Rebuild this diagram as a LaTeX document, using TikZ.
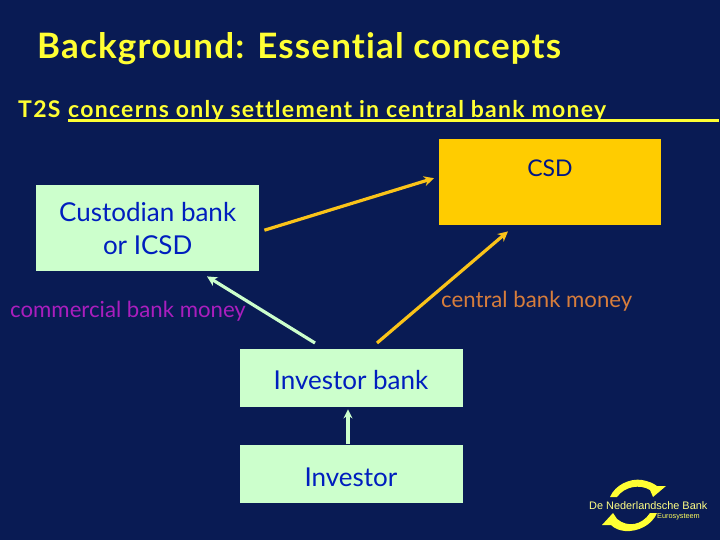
\documentclass[tikz,border=0pt]{standalone}
\usepackage{fontspec}
\setmainfont{Lato}[Ligatures=NoCommon]
\newfontfamily\spaced{Lato}[LetterSpace=5.5,Ligatures=NoCommon]
\newfontfamily\titlefont{Lato}[LetterSpace=3.3,Ligatures=NoCommon]
\newfontfamily\logofont{Liberation Sans}
\usetikzlibrary{arrows.meta}
\definecolor{navy}{RGB}{9,27,84}
\definecolor{titleyellow}{RGB}{255,255,51}
\definecolor{palegreen}{RGB}{204,255,204}
\definecolor{gold}{RGB}{255,204,0}
\definecolor{boxtext}{RGB}{0,30,190}
\definecolor{purpletext}{RGB}{170,30,190}
\definecolor{orangetext}{RGB}{215,125,60}
\definecolor{arrowgold}{RGB}{250,195,25}
\tikzset{
  x=1pt,y=-1pt,
  box/.style={fill=palegreen,text=boxtext,font=\fontsize{26}{33}\selectfont,align=center,inner sep=0pt,anchor=north west},
  csdbox/.style={fill=gold,inner sep=0pt,anchor=north west},
  link/.style={line width=3.2pt,-{Stealth[length=10pt,width=10pt]}},
  smalllink/.style={line width=3.2pt,-{Stealth[length=9pt,width=9pt]}},
  label/.style={font=\fontsize{22.2}{25}\selectfont,inner sep=0pt,anchor=base west},
  ttl/.style={text=titleyellow,inner sep=0pt,anchor=base west}
}
\begin{document}
\begin{tikzpicture}
\useasboundingbox (0,0) rectangle (720,540);
\fill[navy] (0,0) rectangle (720,540);
\node[ttl,font=\titlefont\bfseries\fontsize{35}{40}\selectfont] (title) at (37,59) {Background: Essential concepts};
\node[ttl,font=\spaced\bfseries\fontsize{23}{27}\selectfont] (t2s) at (18,118) {T2S};
\node[ttl,font=\spaced\bfseries\fontsize{23}{27}\selectfont] (sub) at (68,118) {concerns only settlement in central bank money};
\draw[titleyellow,line width=2.5pt] (68,120.5) -- (719,120.5);
\node[box,minimum width=223pt,minimum height=86pt] (cust) at (36,185) {Custodian bank\\or ICSD};
\node[csdbox,minimum width=222pt,minimum height=86pt] (csd) at (439,139) {};
\node[text=boxtext!70!black,font=\fontsize{23}{27}\selectfont,inner sep=0pt] (csdl) at (550,168) {CSD};
\node[box,minimum width=223pt,minimum height=58pt] (ib) at (240,349) {};
\node[text=boxtext,font=\fontsize{26}{33}\selectfont,inner sep=0pt] (ibl) at (351,380) {Investor bank};
\node[box,minimum width=223pt,minimum height=58pt] (inv) at (240,445) {};
\node[text=boxtext,font=\fontsize{26}{33}\selectfont,inner sep=0pt] (invl) at (351,477) {Investor};
\node[label,text=purpletext] (cbm) at (10,317) {commercial bank money};
\node[label,text=orangetext] (zbm) at (441,307) {central bank money};
\draw[link,arrowgold] ([xshift=5pt,yshift=-2pt]cust.east) -- ([xshift=-5pt,yshift=4pt]csd.west);
\draw[link,arrowgold] ([xshift=137pt,yshift=6pt]ib.north west) -- ([xshift=69pt,yshift=-6pt]csd.south west);
\draw[link,palegreen] ([xshift=75pt,yshift=6pt]ib.north west) -- ([xshift=171pt,yshift=-5pt]cust.south west);
\draw[smalllink,palegreen] ([xshift=108pt,yshift=1pt]inv.north west) -- ([xshift=108pt,yshift=-2pt]ib.south west);
% logo
\fill[titleyellow] (610,497) .. controls (615,485) and (630,478) .. (642,480) .. controls (648,481) and (653,483) .. (657,486) -- (666,486) -- (653,497) -- (650,490) .. controls (640,484) and (625,486) .. (617,497) -- cycle;
\fill[titleyellow] (657,513) .. controls (652,525) and (638,532) .. (625,531) .. controls (620,530.5) and (615,529) .. (611,525) -- (602,525) -- (613,513) -- (617,519) .. controls (628,528) and (642,525) .. (650,513) -- cycle;
\node[text=titleyellow!60!white,font=\logofont\fontsize{10.9}{12}\selectfont,inner sep=0pt,anchor=base west] (dnb) at (589,509) {De Nederlandsche Bank};
\node[text=titleyellow!80!white,font=\logofont\fontsize{7.3}{8}\selectfont,inner sep=0pt,anchor=base west] (euro) at (657,518) {Eurosysteem};
\end{tikzpicture}
\end{document}
